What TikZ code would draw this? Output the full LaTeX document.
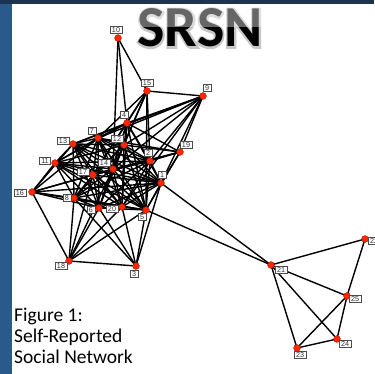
\documentclass[tikz,border=0pt]{standalone}
\usepackage{fontspec}
\newfontfamily\calib{Carlito}
\newfontfamily\arialf{Liberation Sans}
\usepackage{tikz}
\definecolor{frameblue}{RGB}{42,90,140}
\definecolor{framenavy}{RGB}{28,52,82}
\definecolor{dotred}{RGB}{255,40,0}
\definecolor{dotedge}{RGB}{170,20,0}
\newcommand{\haloon}{\special{pdf:literal direct 1 Tr 3.6 w 0.78 G}}
\newcommand{\halooff}{\special{pdf:literal direct 0 Tr}}
\tikzset{
  vtx/.style={circle,fill=dotred,draw=dotedge,line width=0.4pt,minimum size=6.8pt,inner sep=0pt},
  lbl/.style={draw=gray!60!black,fill=white,text=black!80,line width=0.5pt,
    font=\arialf\fontsize{7.2}{7.2}\selectfont,inner xsep=1.8pt,inner ysep=0.9pt,
    text height=5.1pt,text depth=0pt},
  ttl/.style={anchor=base,inner sep=0pt,font=\calib\bfseries\fontsize{58}{58}\selectfont},
  captext/.style={anchor=base west,inner sep=0pt,font=\calib\fontsize{19.5}{21}\selectfont}
}
\begin{document}
\begin{tikzpicture}[x=1pt,y=-1pt]
  \useasboundingbox (0,0) rectangle (374,374);
  \fill[white] (0,0) rectangle (374,374);
  \fill[frameblue] (0,0) rectangle (12,374);
  \fill[framenavy] (0,0) rectangle (374,4);
  \node[ttl] (title) at (200,47) {\haloon SRSN\halooff};
  \node[ttl,text=black] at (title.base) {SRSN};
  \fill[white,opacity=0.4] (125,6) rectangle (275,27);
  \foreach \n/\x/\y in {1/161/183,2/150/161,3/136/266,4/127/123,5/146/210,
      6/99/208,7/98/138,8/74/198,9/203/96,10/118/38,11/55/163,12/124/145,
      13/73/144,14/113/169,15/147/91,16/32/192,17/93/175,18/69/261,19/180/152,
      20/122/207,21/271/265,22/365/239,23/297/348,24/337/339,25/347/296}
    \coordinate (v\n) at (\x,\y);
  \foreach \a/\b in {10/15,10/4,10/14,
      15/9,15/4,15/12,15/7,15/14,15/17,15/2,15/5,
      9/4,9/7,9/13,9/12,9/14,9/2,9/19,9/1,9/20,
      19/12,19/4,19/7,19/2,19/1,19/14,19/5,19/17,
      16/13,16/11,16/7,16/17,16/14,16/1,16/8,16/6,16/20,16/18,
      18/8,18/6,18/20,18/17,18/14,18/5,18/3,
      3/6,3/20,3/5,3/1,3/8,
      1/2,1/4,1/5,1/6,1/7,1/8,1/11,1/12,1/13,1/14,1/17,1/20,
      2/4,2/5,2/6,2/7,2/8,2/11,2/12,2/13,2/14,2/17,2/20,
      4/5,4/6,4/7,4/12,4/13,4/14,4/17,4/20,4/11,
      5/6,5/7,5/8,5/11,5/12,5/13,5/14,5/17,5/20,
      6/7,6/8,6/11,6/12,6/13,6/14,6/17,6/20,
      7/8,7/11,7/12,7/13,7/14,7/17,7/20,
      8/11,8/13,8/14,8/17,8/20,8/12,
      11/12,11/13,11/14,11/17,11/20,
      12/13,12/14,12/17,12/20,13/14,13/17,13/20,
      14/17,14/20,17/20,
      21/1,21/5,21/22,21/25,21/24,21/23,
      22/25,25/24,25/23,24/23}
    \draw[line width=1.4pt] (v\a) -- (v\b);
  \foreach \n/\dx/\dy in {1/1/-8,2/-2/-8,3/-2/8,4/-3/-8,5/-4/7,6/-8/2,7/-6/-7,
      8/-7/0,9/4/-8,10/-2/-8,11/-10/-2,12/-7/-6,13/-10/-3,14/-9/-6,15/0/-8,
      16/-12/1,17/-10/-3,18/-8/5,19/6/-7,20/-10/2,21/10/5,22/9/2,23/3/7,
      24/8/5,25/8/3} {
    \node[vtx] (n\n) at (v\n) {};
    \node[lbl] (l\n) at ([shift={(\dx,\dy)}]v\n) {\n};
  }
  \node[captext] (cap1) at (14,321) {Figure 1:};
  \node[captext] (cap2) at (14,342) {Self-Reported};
  \node[captext] (cap3) at (14,363) {Social Network};
\end{tikzpicture}
\end{document}
